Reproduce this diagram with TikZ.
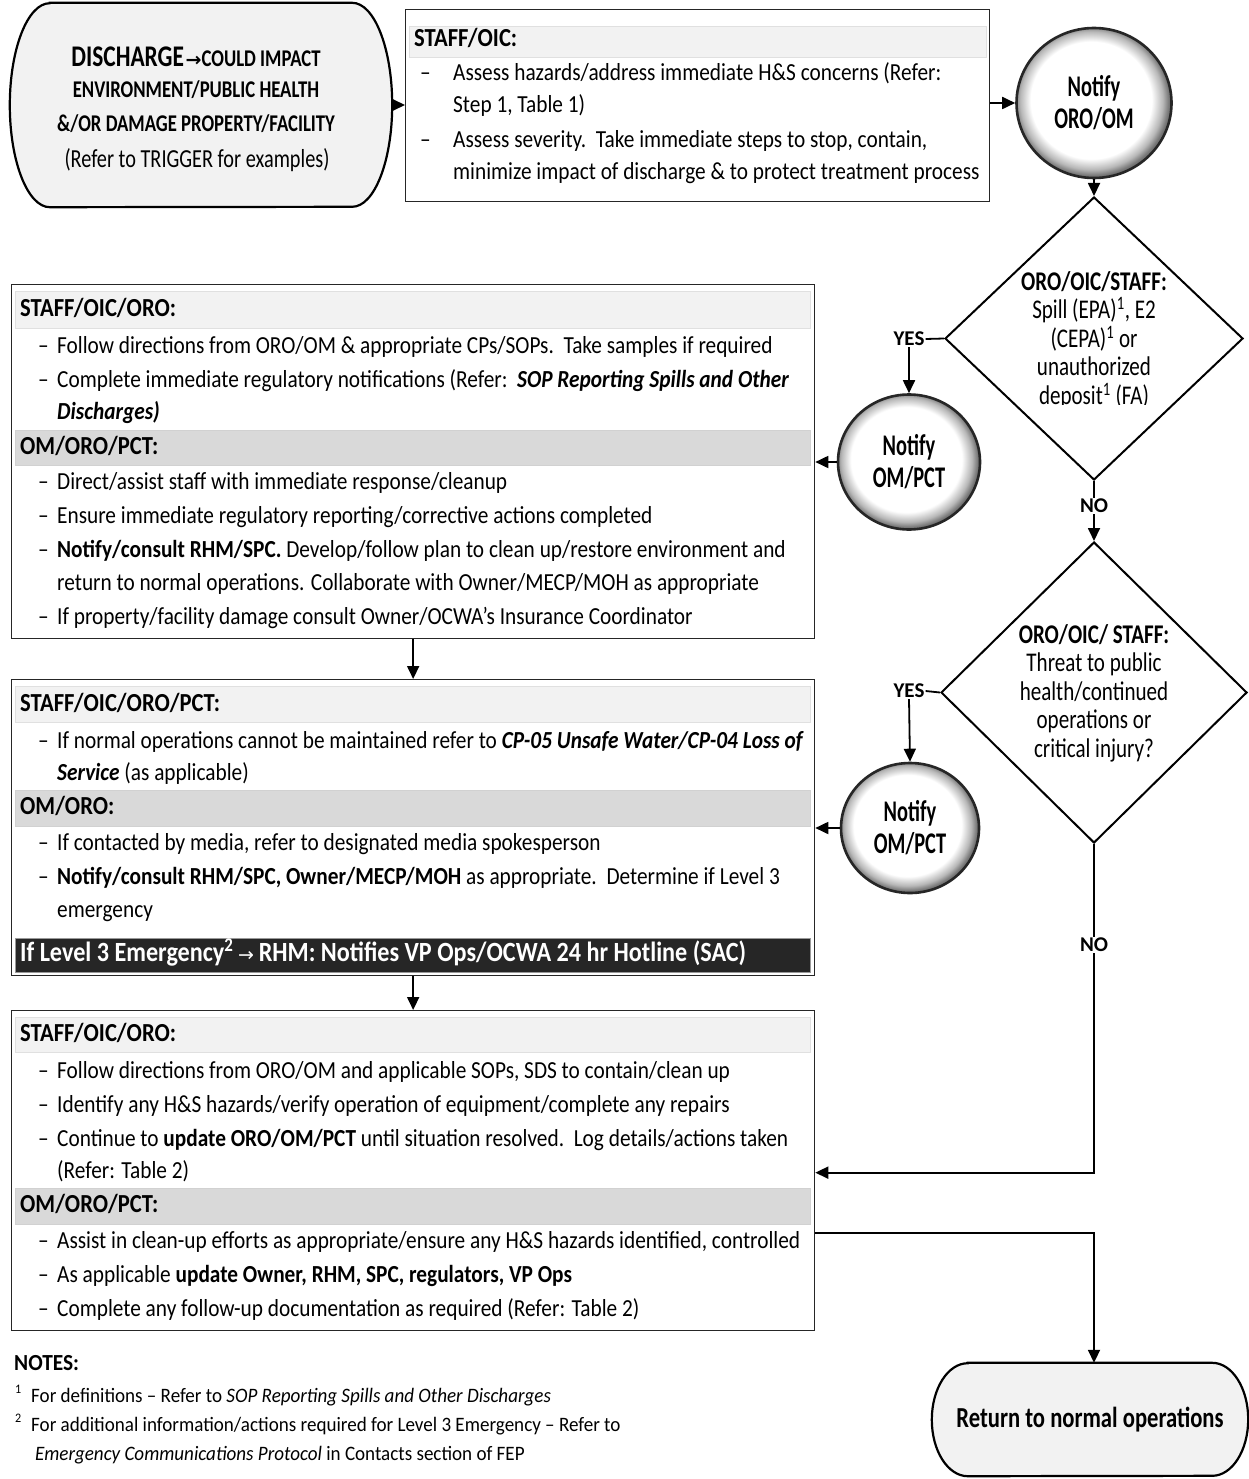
\documentclass[tikz,border=0pt]{standalone}
\usepackage{fontspec}
\setmainfont[FakeStretch=0.87]{Carlito}
\newfontfamily\condf[FakeStretch=0.78]{Carlito}
\newfontfamily\ballf[FakeStretch=0.68]{Carlito}
\newfontfamily\notef[FakeStretch=0.93]{Carlito}
\newfontfamily\plainf{Carlito}
\newfontfamily\arrowf{DejaVu Sans}
\usetikzlibrary{arrows.meta,shapes.geometric}
\definecolor{hlight}{HTML}{F2F2F2}
\definecolor{hdark}{HTML}{D9D9D9}
\definecolor{shapefill}{HTML}{F2F2F2}
\definecolor{barblack}{HTML}{262626}
\pgfdeclareradialshading{ballshade}{\pgfpoint{-1.5bp}{1.5bp}}{color(0bp)=(white); color(19.5bp)=(white); color(23bp)=(black!28); color(25bp)=(black!55); color(50bp)=(black!55)}
\newcounter{tlc}
\newcommand\tline[3]{\stepcounter{tlc}\node[txt] (t\thetlc) at (#1,#2) {#3};}
\newcommand\bul[4]{\stepcounter{tlc}\node[txt] (d\thetlc) at (#1,#3) {–};\node[txt] (t\thetlc) at (#2,#3) {#4};}
\tikzset{
  txt/.style={anchor=west, inner sep=0pt, text height=17pt, text depth=5pt, font=\fontsize{24.5}{28}\selectfont},
  hdtxt/.style={txt, font=\bfseries\fontsize{26}{30}\selectfont},
  box/.style={draw=black!85, line width=1.3pt, fill=white, anchor=north west, inner sep=0pt},
  hdrA/.style={fill=hlight, draw=black!12, line width=0.6pt, anchor=north west, inner sep=0pt},
  hdrB/.style={fill=hdark, draw=black!18, line width=0.6pt, anchor=north west, inner sep=0pt},
  hdrK/.style={fill=barblack, draw=black!40, line width=0.6pt, anchor=north west, inner sep=0pt},
  arr/.style={-{Triangle[length=13pt,width=12pt]}, line width=1.8pt},
  lnk/.style={line width=1.8pt},
  ball/.style={ellipse, draw=black!85, line width=2.6pt, shading=ballshade, inner sep=0pt, align=center, font=\ballf\bfseries\fontsize{30}{32}\selectfont},
  dia/.style={diamond, draw=black, line width=2pt, inner sep=0pt},
  termbox/.style={rectangle, inner sep=0pt},
  termline/.style={draw=black, line width=2.2pt, fill=shapefill},
  yn/.style={inner sep=1pt, font=\plainf\bfseries\fontsize{21}{23}\selectfont},
  dtxt/.style={align=center, inner sep=0pt, font=\condf\fontsize{27}{28.5}\selectfont},
}
\begin{document}
\begin{tikzpicture}[x=1pt,y=-1pt]
\useasboundingbox (0,0) rectangle (1248,1479);
\fill[white] (0,0) rectangle (1248,1479);

% start terminal
\node[termbox, minimum width=382pt, minimum height=204pt] (start) at (201,105) {};
\path[termline] ([xshift=40pt]start.north west) -- ([xshift=-40pt]start.north east)
  arc[start angle=90, end angle=-90, x radius=40pt, y radius=102pt]
  -- ([xshift=40pt]start.south west)
  arc[start angle=270, end angle=90, x radius=40pt, y radius=102pt] -- cycle;
\node[inner sep=0pt, font=\condf\bfseries] (s1) at (196,57) {{\fontsize{30}{32}\selectfont DISCHARGE}\,{\arrowf\fontsize{19}{20}\selectfont →}{\fontsize{24}{26}\selectfont COULD IMPACT}};
\node[inner sep=0pt, font=\condf\bfseries\fontsize{24}{26}\selectfont] (s2) at (196,90) {ENVIRONMENT/PUBLIC HEALTH};
\node[inner sep=0pt, font=\condf\bfseries\fontsize{24}{26}\selectfont] (s3) at (196,124) {\&/OR DAMAGE PROPERTY/FACILITY};
\node[inner sep=0pt, font=\condf\fontsize{26}{28}\selectfont] (s4) at (197,160) {(Refer to TRIGGER for examples)};

% box 1
\node[box, minimum width=584pt, minimum height=192pt] (box1) at (405,9) {};
\node[hdrA, minimum width=577pt, minimum height=31pt] (h11) at (409,26) {};
\node[hdtxt] (h11t) at (414,41) {STAFF/OIC:};
\bul{420}{453}{75}{Assess hazards/address immediate H\&S concerns (Refer:}
\tline{453}{107}{Step 1, Table 1)}
\bul{420}{453}{142}{Assess severity.\ \ Take immediate steps to stop, contain,}
\tline{453}{174}{minimize impact of discharge \& to protect treatment process}

% circle 1
\node[ball, minimum width=155pt, minimum height=150pt] (c1) at (1094,103) {Notify\\ORO/OM};

% diamond 1
\node[dia, minimum width=298pt, minimum height=283pt] (d1) at (1094,338.5) {};
\begin{scope}
\clip (950,250) rectangle (1240,404);
\node[dtxt] (d1t) at (1094,340) {{\bfseries ORO/OIC/STAFF:}\\Spill (EPA)\textsuperscript{1}, E2\\(CEPA)\textsuperscript{1} or\\unauthorized\\deposit\textsuperscript{1} (FA)};
\end{scope}
\node[yn] (yes1) at (909,339) {YES};
\node[yn] (no1) at (1094,506) {NO};

% circle 2
\node[ball, minimum width=142pt, minimum height=135pt] (c2) at (909,462) {Notify\\OM/PCT};

% box 2
\node[box, minimum width=803pt, minimum height=354pt] (box2) at (11,284) {};
\node[hdrA, minimum width=795pt, minimum height=37pt] (h21) at (15,291) {};
\node[hdtxt] (h21t) at (20,310) {STAFF/OIC/ORO:};
\bul{38}{57}{347}{Follow directions from ORO/OM \& appropriate CPs/SOPs.\ \ Take samples if required}
\bul{38}{57}{381}{Complete immediate regulatory notifications (Refer:\ \ \textbf{\textit{SOP Reporting Spills and Other}}}
\tline{57}{413}{\textbf{\textit{Discharges)}}}
\node[hdrB, minimum width=795pt, minimum height=35pt] (h22) at (15,430) {};
\node[hdtxt] (h22t) at (20,448) {OM/ORO/PCT:};
\bul{38}{57}{483}{Direct/assist staff with immediate response/cleanup}
\bul{38}{57}{517}{Ensure immediate regulatory reporting/corrective actions completed}
\bul{38}{57}{551}{\textbf{Notify/consult RHM/SPC.} Develop/follow plan to clean up/restore environment and}
\tline{57}{584}{return to normal operations. Collaborate with Owner/MECP/MOH as appropriate}
\bul{38}{57}{618}{If property/facility damage consult Owner/OCWA’s Insurance Coordinator}

% diamond 2
\node[dia, minimum width=306pt, minimum height=301pt] (d2) at (1094,692.5) {};
\node[dtxt] (d2t) at (1094,693) {{\bfseries ORO/OIC/ STAFF:}\\Threat to public\\health/continued\\operations or\\critical injury?};
\node[yn] (yes2) at (909,691) {YES};
\node[yn] (no2) at (1094,945) {NO};

% circle 3
\node[ball, minimum width=138pt, minimum height=130pt] (c3) at (910,828) {Notify\\OM/PCT};

% box 3
\node[box, minimum width=803pt, minimum height=296pt] (box3) at (11,679) {};
\node[hdrA, minimum width=795pt, minimum height=36pt] (h31) at (15,686) {};
\node[hdtxt] (h31t) at (20,705) {STAFF/OIC/ORO/PCT:};
\bul{38}{57}{742}{If normal operations cannot be maintained refer to \textbf{\textit{CP-05 Unsafe Water/CP-04 Loss of}}}
\tline{57}{774}{\textbf{\textit{Service}} (as applicable)}
\node[hdrB, minimum width=795pt, minimum height=36pt] (h32) at (15,790) {};
\node[hdtxt] (h32t) at (20,808) {OM/ORO:};
\bul{38}{57}{844}{If contacted by media, refer to designated media spokesperson}
\bul{38}{57}{878}{\textbf{Notify/consult RHM/SPC, Owner/MECP/MOH} as appropriate.\ \ Determine if Level 3}
\tline{57}{911}{emergency}
\node[hdrK, minimum width=795pt, minimum height=34pt] (h33) at (15,938) {};
\node[txt, text=white, font=\bfseries\fontsize{27.8}{30}\selectfont] (h33t) at (20,955) {If Level 3 Emergency\textsuperscript{2}\,{\arrowf\mdseries\fontsize{19}{20}\selectfont →}\,RHM: Notifies VP Ops/OCWA 24 hr Hotline (SAC)};

% box 4
\node[box, minimum width=803pt, minimum height=320pt] (box4) at (11,1010) {};
\node[hdrA, minimum width=795pt, minimum height=35pt] (h41) at (15,1017) {};
\node[hdtxt] (h41t) at (20,1035) {STAFF/OIC/ORO:};
\bul{38}{57}{1072}{Follow directions from ORO/OM and applicable SOPs, SDS to contain/clean up}
\bul{38}{57}{1106}{Identify any H\&S hazards/verify operation of equipment/complete any repairs}
\bul{38}{57}{1140}{Continue to \textbf{update ORO/OM/PCT} until situation resolved.\ \ Log details/actions taken}
\tline{57}{1172}{(Refer: Table 2)}
\node[hdrB, minimum width=795pt, minimum height=36pt] (h42) at (15,1188) {};
\node[hdtxt] (h42t) at (20,1206) {OM/ORO/PCT:};
\bul{38}{57}{1242}{Assist in clean-up efforts as appropriate/ensure any H\&S hazards identified, controlled}
\bul{38}{57}{1276}{As applicable \textbf{update Owner, RHM, SPC, regulators, VP Ops}}
\bul{38}{57}{1310}{Complete any follow-up documentation as required (Refer: Table 2)}

% return terminal
\node[termbox, minimum width=316pt, minimum height=113pt] (ret) at (1090,1419.5) {};
\path[termline] ([xshift=36pt]ret.north west) -- ([xshift=-36pt]ret.north east)
  arc[start angle=90, end angle=-90, x radius=36pt, y radius=56.5pt]
  -- ([xshift=36pt]ret.south west)
  arc[start angle=270, end angle=90, x radius=36pt, y radius=56.5pt] -- cycle;
\node[inner sep=0pt, font=\condf\bfseries\fontsize{29}{30}\selectfont] (rett) at (ret.center) {Return to normal operations};

% notes
\node[txt, font=\notef\bfseries\fontsize{23}{26}\selectfont] (notes) at (14,1364) {NOTES:};
\node[txt, font=\notef\fontsize{13}{14}\selectfont] (n1s) at (15,1387) {1};
\node[txt, font=\notef\fontsize{20.5}{23}\selectfont] (n1) at (31,1396) {For definitions – Refer to \textit{SOP Reporting Spills and Other Discharges}};
\node[txt, font=\notef\fontsize{13}{14}\selectfont] (n2s) at (15,1416) {2};
\node[txt, font=\notef\fontsize{20.5}{23}\selectfont] (n2) at (31,1425) {For additional information/actions required for Level 3 Emergency – Refer to};
\node[txt, font=\notef\fontsize{20.5}{23}\selectfont] (n3) at (35,1454) {\textit{Emergency Communications Protocol} in Contacts section of FEP};

% connectors
\draw[arr] (start.east) -- (box1.west |- start.east);
\draw[arr] (box1.east |- c1.west) -- (c1.west);
\draw[arr] (c1.south) -- (d1.north);
\draw[lnk] (d1.west) -- (yes1.east);
\draw[arr] (yes1.south) -- (c2.north);
\draw[arr] (c2.west) -- (c2.west -| box2.east);
\draw[lnk] (d1.south) -- (no1.north);
\draw[arr] (no1.south) -- (d2.north);
\draw[lnk] (d2.west) -- (yes2.east);
\draw[arr] (yes2.south) -- (c3.north);
\draw[arr] (c3.west) -- (c3.west -| box3.east);
\draw[lnk] (d2.south) -- (no2.north);
\draw[arr] (no2.south) |- ([yshift=-2pt]box4.east);
\draw[arr] (box2.south) -- (box3.north);
\draw[arr] (box3.south) -- (box4.north);
\draw[arr] ([yshift=-62pt]box4.east) -| (ret.north -| no2.south);
\end{tikzpicture}
\end{document}
